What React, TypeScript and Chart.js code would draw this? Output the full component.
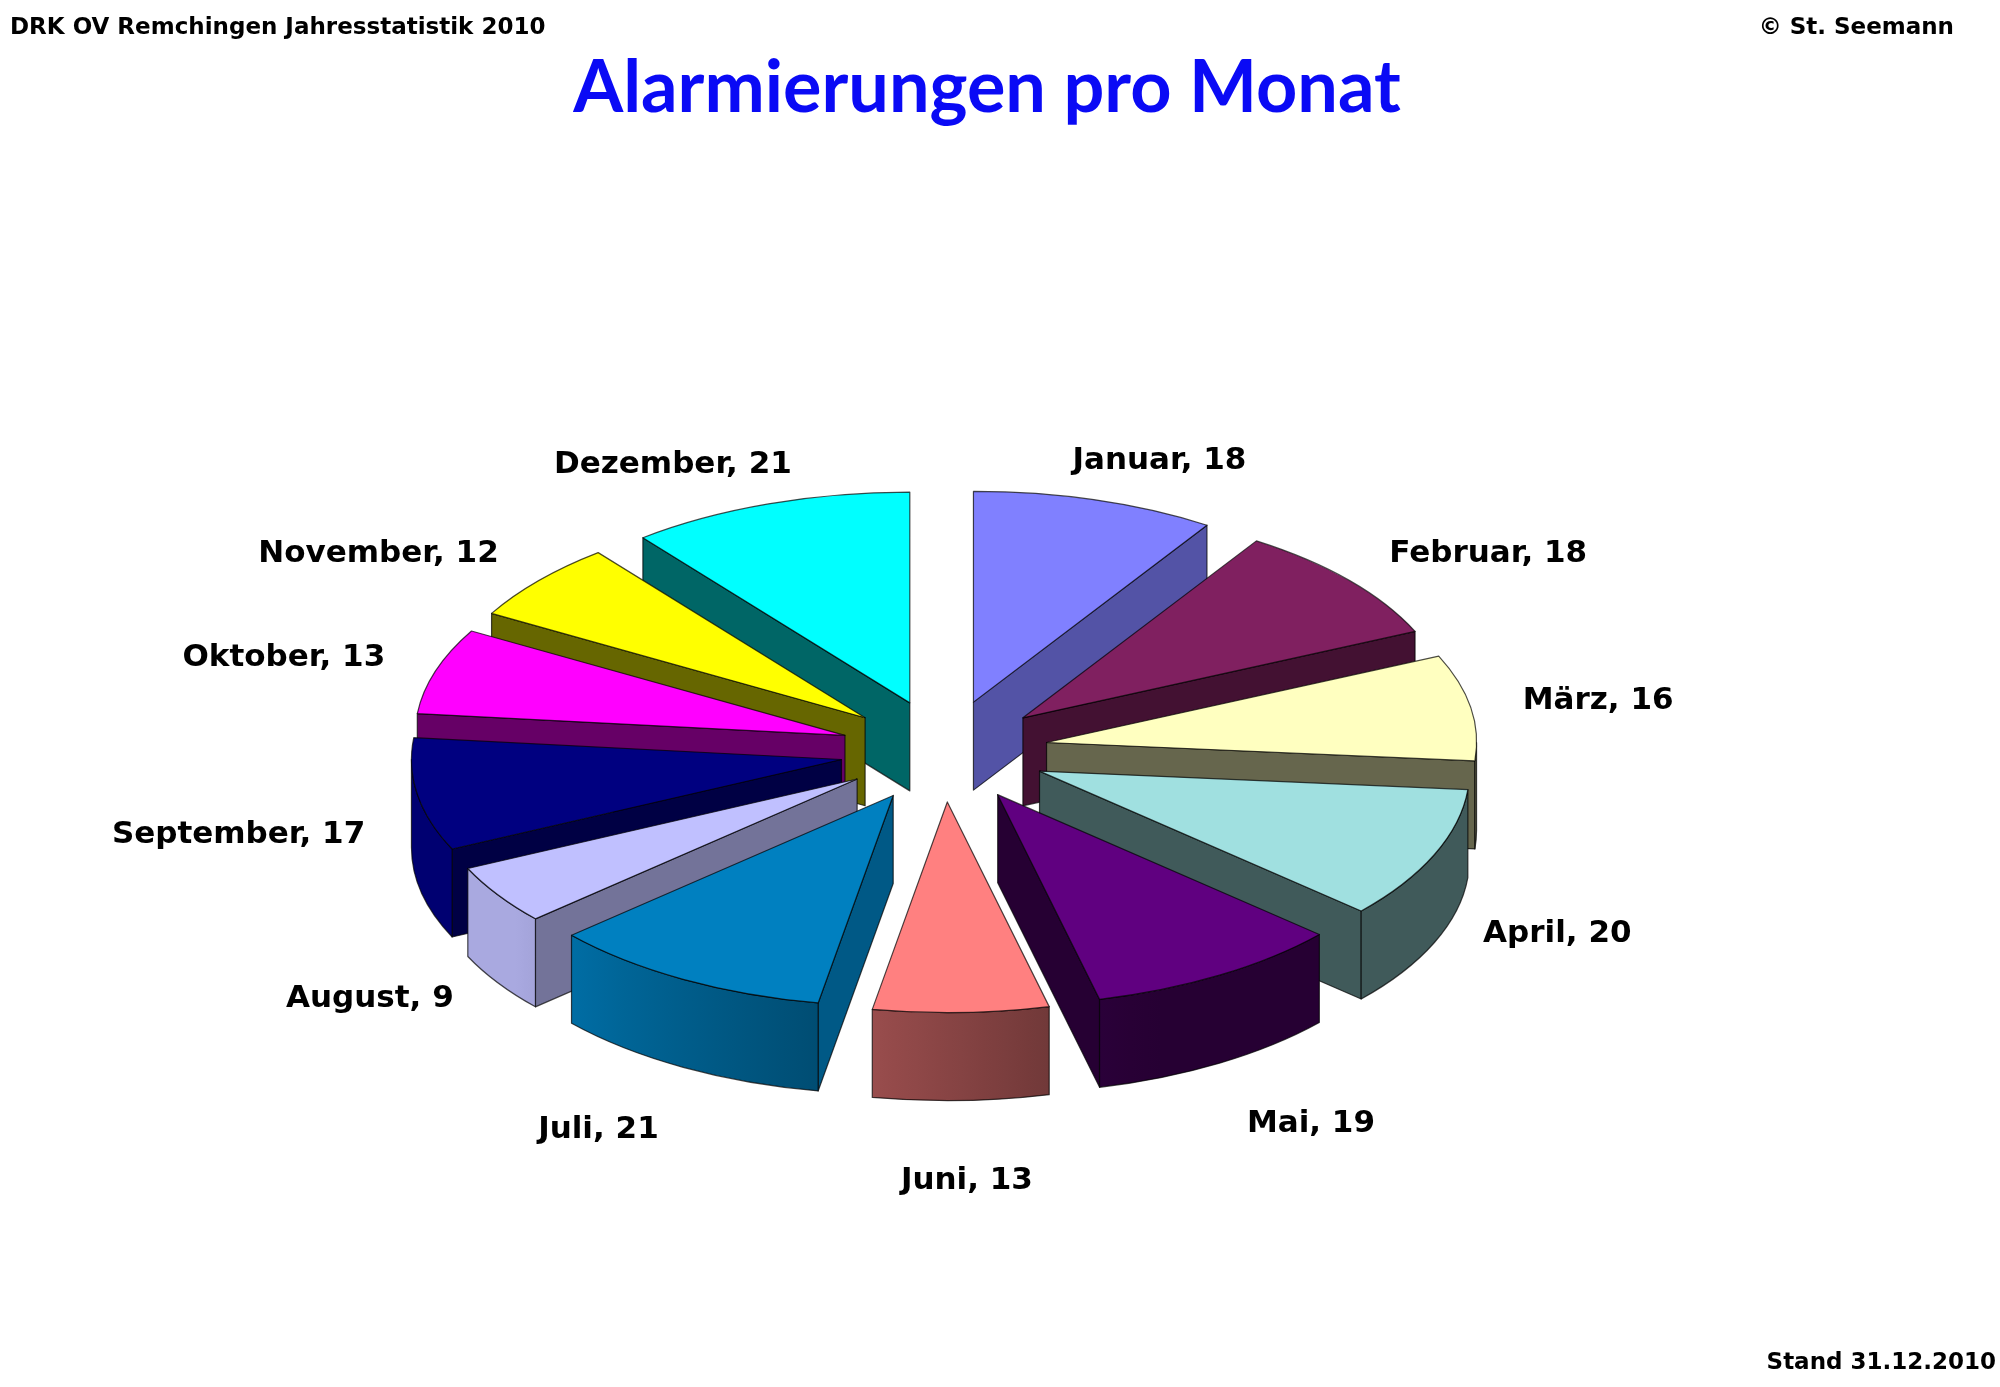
import { useEffect, useRef } from "react"
import { Chart, registerables } from "chart.js"

Chart.register(...registerables)

const months = ["Januar", "Februar", "März", "April", "Mai", "Juni", "Juli", "August", "September", "Oktober", "November", "Dezember"]
const alarms = [18, 18, 16, 20, 19, 13, 21, 9, 17, 13, 12, 21]
const sliceColors = ["#8080FF", "#802060", "#FFFFC0", "#A0E0E0", "#600080", "#FF8080", "#0080C0", "#C0C0FF", "#000080", "#FF00FF", "#FFFF00", "#00FFFF"]

// look of the fake 3d pie
const TILT = 0.49
const DEPTH = 88
const EXPLODE = 104

function shade(hex: string, f: number) {
  const n = parseInt(hex.slice(1), 16)
  const r = Math.round(((n >> 16) & 255) * f)
  const g = Math.round(((n >> 8) & 255) * f)
  const b = Math.round((n & 255) * f)
  return `rgb(${r},${g},${b})`
}

// light comes from the left
const rimLight = (t: number) => Math.min(0.88, Math.max(0.4, 0.44 + 0.0066 * ((t * 180) / Math.PI - 76)))
const cutLight = (normal: number) => 0.4 + 0.3 * Math.max(0, Math.cos(normal))

const pie3d = {
  id: "pie3d",
  beforeDatasetsDraw(chart: any) {
    const ctx: CanvasRenderingContext2D = chart.ctx
    const meta = chart.getDatasetMeta(0)
    const labels: string[] = chart.data.labels
    const values: number[] = chart.data.datasets[0].data

    const slices = meta.data.map((arc: any, i: number) => {
      const p = arc.getProps(["x", "y", "startAngle", "endAngle", "outerRadius"], true)
      const mid = (p.startAngle + p.endAngle) / 2
      return {
        i,
        cx: p.x,
        cy: p.y,
        x: p.x + EXPLODE * Math.cos(mid),
        y: p.y + TILT * EXPLODE * Math.sin(mid),
        a: p.startAngle,
        b: p.endAngle,
        r: p.outerRadius,
        mid,
        color: arc.options.backgroundColor as string,
      }
    })

    ctx.save()
    ctx.lineWidth = 1.2
    ctx.lineJoin = "round"
    ctx.strokeStyle = "rgba(0,0,0,0.7)"

    const face = (fill: any, build: () => void) => {
      ctx.beginPath()
      build()
      ctx.closePath()
      ctx.fillStyle = fill
      ctx.fill()
      ctx.stroke()
    }

    const order = [...slices].sort((p, q) => Math.sin(p.mid) - Math.sin(q.mid))
    for (const s of order) {
      const ry = TILT * s.r
      const rimX = (t: number) => s.x + s.r * Math.cos(t)
      const rimY = (t: number) => s.y + ry * Math.sin(t)
      const cut = (t: number, normal: number) =>
        face(shade(s.color, cutLight(normal)), () => {
          ctx.moveTo(s.x, s.y)
          ctx.lineTo(rimX(t), rimY(t))
          ctx.lineTo(rimX(t), rimY(t) + DEPTH)
          ctx.lineTo(s.x, s.y + DEPTH)
        })

      if (Math.cos(s.a) < 0) cut(s.a, s.a - Math.PI / 2)
      if (Math.cos(s.b) > 0) cut(s.b, s.b + Math.PI / 2)

      const p = Math.max(s.a, 0)
      const q = Math.min(s.b, Math.PI)
      if (q > p) {
        const x0 = rimX(q)
        const x1 = rimX(p)
        const grad = ctx.createLinearGradient(x0, 0, x1 === x0 ? x0 + 1 : x1, 0)
        for (let k = 0; k <= 8; k++) {
          const t = q - ((q - p) * k) / 8
          const pos = x1 === x0 ? k / 8 : (rimX(t) - x0) / (x1 - x0)
          grad.addColorStop(Math.min(1, Math.max(0, pos)), shade(s.color, rimLight(t)))
        }
        face(grad, () => {
          ctx.ellipse(s.x, s.y, s.r, ry, 0, p, q)
          ctx.lineTo(rimX(q), rimY(q) + DEPTH)
          ctx.ellipse(s.x, s.y + DEPTH, s.r, ry, 0, q, p, true)
        })
      }

      face(s.color, () => {
        ctx.moveTo(s.x, s.y)
        ctx.ellipse(s.x, s.y, s.r, ry, 0, s.a, s.b)
      })
    }

    // data labels sit just outside a wider ring, nearest edge towards the pie
    ctx.fillStyle = "#000"
    ctx.font = "bold 31px 'DejaVu Sans', sans-serif"
    ctx.textAlign = "center"
    ctx.textBaseline = "middle"
    const ring = 1.365
    for (const s of slices) {
      const text = `${labels[s.i]}, ${values[s.i]}`
      const w = ctx.measureText(text).width
      const cos = Math.cos(s.mid)
      const sin = Math.sin(s.mid)
      const lx = s.cx + ring * s.r * cos + (w / 2) * Math.min(1, Math.max(-1, 2 * cos))
      const ly = s.cy + (TILT * ring * s.r + 15) * sin + 1.45 * DEPTH * Math.pow(Math.max(0, sin), 0.75)
      ctx.fillText(text, lx, ly)
    }
    ctx.restore()
    return false
  },
}

export default function App() {
  const canvasRef = useRef<HTMLCanvasElement>(null)
  const chartRef = useRef<Chart | null>(null)

  useEffect(() => {
    if (!canvasRef.current) return
    if (chartRef.current) chartRef.current.destroy()

    chartRef.current = new Chart(canvasRef.current, {
      type: "pie",
      data: {
        labels: months,
        datasets: [
          {
            data: alarms,
            backgroundColor: sliceColors,
            borderWidth: 0,
            hoverOffset: 0,
          },
        ],
      },
      options: {
        responsive: false,
        animation: false,
        events: [],
        layout: { padding: { left: 514, right: 626, top: 321, bottom: 206 } },
        plugins: {
          legend: { display: false },
          tooltip: { enabled: false },
        },
      },
      plugins: [pie3d],
    })

    return () => {
      if (chartRef.current) chartRef.current.destroy()
      chartRef.current = null
    }
  }, [])

  const small = { position: "absolute" as const, fontFamily: "'DejaVu Sans', sans-serif", fontWeight: "bold", fontSize: 23, lineHeight: 1, whiteSpace: "nowrap" as const, color: "#000" }

  return (
    <div style={{ position: "absolute", left: 0, top: 0, width: 2000, height: 1387, background: "#fff", overflow: "hidden" }}>
      <canvas ref={canvasRef} width={2000} height={1387} style={{ position: "absolute", left: 0, top: 0 }} />
      <div style={{ ...small, left: 10, top: 15 }}>DRK OV Remchingen Jahresstatistik 2010</div>
      <div style={{ ...small, right: 46, top: 15 }}>© St. Seemann</div>
      <div style={{ ...small, right: 4, top: 1350 }}>Stand 31.12.2010</div>
      <div
        style={{
          position: "absolute",
          left: 987,
          top: 48,
          transform: "translateX(-50%)",
          fontFamily: "Lato, 'DejaVu Sans', sans-serif",
          fontWeight: "bold",
          fontSize: 72,
          lineHeight: 1,
          whiteSpace: "nowrap",
          color: "#0A0AF5",
        }}
      >
        Alarmierungen pro Monat
      </div>
    </div>
  )
}
